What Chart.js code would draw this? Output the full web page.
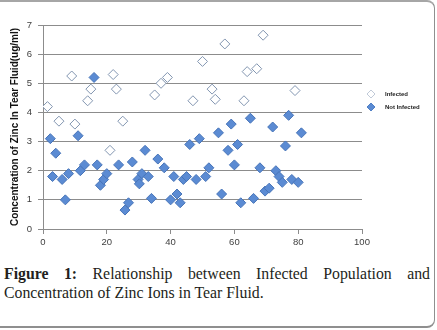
<!DOCTYPE html>
<html>
<head>
<meta charset="utf-8">
<script src="https://cdn.jsdelivr.net/npm/chart.js@4.4.1/dist/chart.umd.min.js"></script>
<style>
  html, body { margin: 0; padding: 0; background: #fff; }
  #wrap { position: relative; width: 437px; height: 330px; overflow: hidden; }
  #frame { position: absolute; left: -4px; top: 0; width: 439px; height: 328px; box-sizing: border-box;
           border-top: 2px solid #a6a6a6; border-right: 1.5px solid #8f8f8f; border-bottom: 2px solid #8f8f8f;
           border-radius: 0 8px 8px 0; pointer-events: none; }
  #chartBox { position: absolute; left: 0; top: 0; width: 437px; height: 252px; }
  #caption { position: absolute; left: 4px; top: 264px; width: 426px;
             font-family: "Liberation Serif", "DejaVu Serif", serif; font-size: 15.8px; line-height: 19px;
             color: #231f20; text-align: justify; }
</style>
</head>
<body>
<div id="wrap">
  <div id="chartBox"><canvas id="c" width="437" height="252"></canvas></div>
  <div id="caption"><b>Figure 1:</b> Relationship between Infected Population and Concentration of Zinc Ions in Tear Fluid.</div>
  <div id="frame"></div>
</div>
<script>
// ---- data ----
const seriesNames = ["Infected", "Not Infected"];
const infectedX = [1.4, 5, 9, 10, 14, 15, 21, 22, 23, 25, 35, 37, 39, 47, 50, 53, 54, 57, 63, 64, 67, 69, 79];
const infectedY = [4.2, 3.7, 5.25, 3.6, 4.4, 4.8, 2.7, 5.3, 4.8, 3.7, 4.6, 5.0, 5.2, 4.4, 5.75, 4.8, 4.45, 6.35, 4.4, 5.4, 5.5, 6.65, 4.75];
const notInfectedX = [2.3, 3, 4, 6, 7, 8, 11, 11.7, 13, 16, 17, 18, 19, 20, 23.7, 25.7, 26.8, 28, 29.8, 30.2, 31, 32, 33, 34, 36, 38, 40, 41, 42, 43, 44, 45, 46, 48, 49, 51, 52, 55, 56, 58, 59, 60, 61, 62, 65, 66, 68, 69.6, 70.9, 72, 73, 74, 75, 76, 77, 78, 80, 81];
const notInfectedY = [3.1, 1.8, 2.6, 1.7, 1.0, 1.9, 3.2, 2.0, 2.2, 5.2, 2.2, 1.5, 1.7, 1.9, 2.2, 0.65, 0.9, 2.3, 1.7, 1.55, 1.9, 2.7, 1.8, 1.05, 2.4, 2.1, 1.0, 1.8, 1.2, 0.9, 1.7, 1.8, 2.9, 1.7, 3.1, 1.8, 2.1, 3.3, 1.2, 2.7, 3.6, 2.2, 2.9, 0.9, 3.8, 1.05, 2.1, 1.3, 1.4, 3.5, 2.0, 1.8, 1.6, 2.85, 3.9, 1.7, 1.6, 3.3];
const xTicks = [0, 20, 40, 60, 80, 100];
const yTicks = [0, 1, 2, 3, 4, 5, 6, 7];
const yTitle = "Concentration of Zinc In Tear Fluid(ug/ml)";

const toPts = (xs, ys) => xs.map((x, i) => ({ x: x, y: ys[i] }));

const legendPlugin = {
  id: 'sideLegend',
  afterDraw(chart) {
    const ctx = chart.ctx;
    const rows = [94, 107];
    chart.data.datasets.forEach((ds, i) => {
      ctx.save();
      ctx.fillStyle = ds.backgroundColor;
      ctx.strokeStyle = ds.borderColor;
      ctx.lineWidth = 1;
      Chart.helpers.drawPoint(ctx, { pointStyle: 'rectRot', radius: 4, borderWidth: 1, rotation: 0 }, 371, rows[i]);
      ctx.fill();
      ctx.font = 'bold 6px "Liberation Sans", Arial, sans-serif';
      ctx.fillStyle = '#222';
      ctx.textBaseline = 'middle';
      ctx.textAlign = 'left';
      ctx.fillText(ds.label, 385, rows[i] + 0.5);
      ctx.restore();
    });
  }
};

new Chart(document.getElementById('c'), {
  type: 'scatter',
  data: {
    datasets: [
      { label: seriesNames[0], data: toPts(infectedX, infectedY),
        backgroundColor: '#ffffff', borderColor: '#8295b0', borderWidth: 1,
        pointStyle: 'rectRot', pointRadius: 5, pointHoverRadius: 5 },
      { label: seriesNames[1], data: toPts(notInfectedX, notInfectedY),
        backgroundColor: '#5b8bd3', borderColor: '#4774b8', borderWidth: 1,
        pointStyle: 'rectRot', pointRadius: 5, pointHoverRadius: 5 }
    ]
  },
  options: {
    responsive: false,
    animation: false,
    layout: { padding: { left: 0, right: 75, top: 25, bottom: 0 } },
    plugins: { legend: { display: false }, tooltip: { enabled: false } },
    scales: {
      x: {
        type: 'linear', min: 0, max: 100,
        afterBuildTicks(scale) { scale.ticks = xTicks.map(v => ({ value: v })); },
        afterFit(scale) { scale.height = 23; },
        grid: { drawOnChartArea: false, drawTicks: true, tickLength: 5, color: '#8c8c8c' },
        border: { display: true, color: '#8c8c8c' },
        ticks: { padding: 3, color: '#404040', font: { family: '"Liberation Sans", Arial, sans-serif', size: 9.5 } }
      },
      y: {
        type: 'linear', min: 0, max: 7,
        afterBuildTicks(scale) { scale.ticks = yTicks.map(v => ({ value: v })); },
        afterFit(scale) { scale.width = 43; },
        grid: { drawOnChartArea: true, drawTicks: true, tickLength: 5, color: '#8c8c8c' },
        border: { display: true, color: '#8c8c8c' },
        ticks: { padding: 6, color: '#404040', font: { family: '"Liberation Sans", Arial, sans-serif', size: 9.5 } },
        title: { display: true, text: yTitle, color: '#111',
                 padding: { top: 9, bottom: 0 },
                 font: { family: '"Liberation Sans Narrow", "Liberation Sans", Arial, sans-serif', size: 10, weight: 'bold' } }
      }
    }
  },
  plugins: [legendPlugin]
});
</script>
</body>
</html>
